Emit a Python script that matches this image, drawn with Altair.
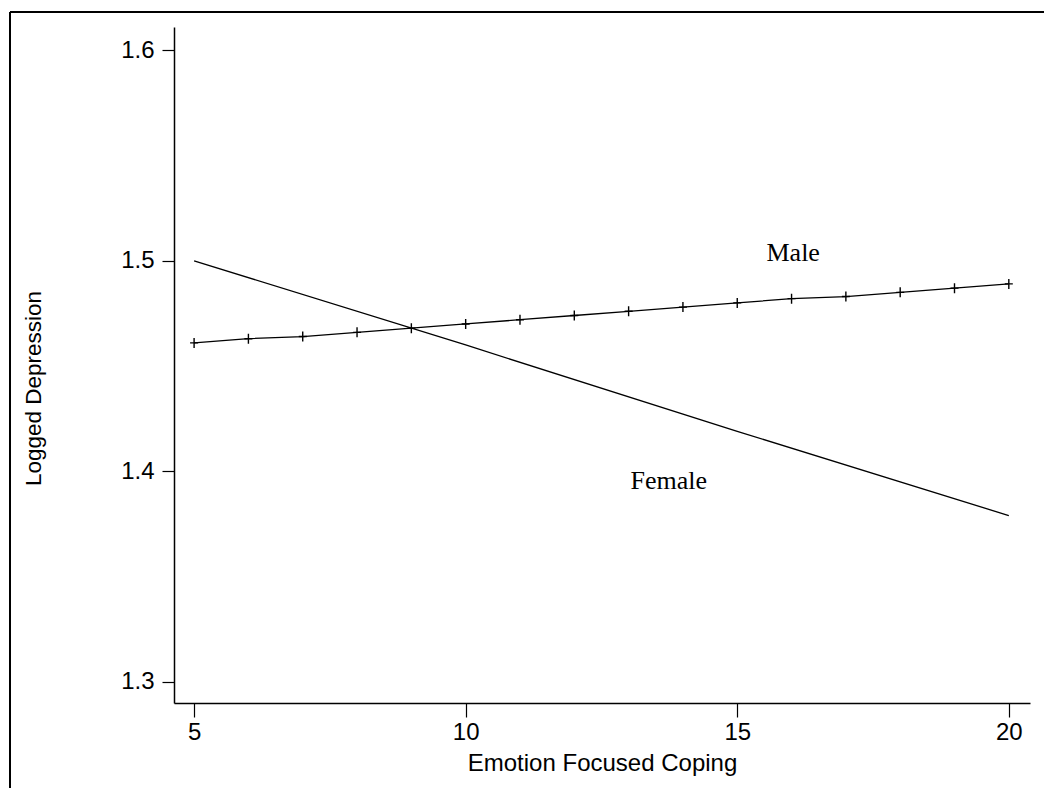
import altair as alt
import pandas as pd

# Data
male_x = [5, 6, 7, 8, 9, 10, 11, 12, 13, 14, 15, 16, 17, 18, 19, 20]
male_y = [1.461, 1.463, 1.464, 1.466, 1.468, 1.470, 1.472, 1.474,
          1.476, 1.478, 1.480, 1.482, 1.483, 1.485, 1.487, 1.489]
female_x = [5, 10, 15, 20]
female_y = [1.500, 1.460, 1.419, 1.379]

label_text = ["Male", "Female"]
label_x = [16.03, 13.74]
label_y = [1.500, 1.3914]

x_ticks = [5, 10, 15, 20]
y_ticks = [1.3, 1.4, 1.5, 1.6]

SANS = "Liberation Sans, Arial, sans-serif"
SERIF = "Liberation Serif, Times New Roman, serif"

male_df = pd.DataFrame({"x": male_x, "y": male_y})
female_df = pd.DataFrame({"x": female_x, "y": female_y})
labels_df = pd.DataFrame({"text": label_text, "x": label_x, "y": label_y})

xscale = alt.Scale(domain=[4.63, 20.39], nice=False, zero=False)
yscale = alt.Scale(domain=[1.29, 1.611], nice=False, zero=False)

xaxis = alt.Axis(values=x_ticks, title="Emotion Focused Coping", grid=False,
                 labelFont=SANS, labelFontSize=24, labelColor="black", labelPadding=3,
                 tickSize=14, tickColor="black", tickWidth=1.2,
                 domainColor="black", domainWidth=1.5,
                 titleFont=SANS, titleFontSize=24, titleFontWeight="normal",
                 titleColor="black", titleBaseline="alphabetic", titleY=67)
yaxis = alt.Axis(values=y_ticks, format=".1f", title="Logged Depression", grid=False,
                 labelFont=SANS, labelFontSize=24, labelColor="black", labelPadding=8,
                 tickSize=12, tickColor="black", tickWidth=1.2,
                 domainColor="black", domainWidth=1.5,
                 titleFont=SANS, titleFontSize=22.5, titleFontWeight="normal",
                 titleColor="black", titleAngle=270, titleAlign="center",
                 titleBaseline="alphabetic", titleX=-134, titleY=361)

female_line = alt.Chart(female_df).mark_line(color="black", strokeWidth=1.3).encode(
    x=alt.X("x:Q", scale=xscale, axis=xaxis),
    y=alt.Y("y:Q", scale=yscale, axis=yaxis),
)
male_line = alt.Chart(male_df).mark_line(color="black", strokeWidth=1.3).encode(
    x=alt.X("x:Q", scale=xscale),
    y=alt.Y("y:Q", scale=yscale),
)
male_pts = alt.Chart(male_df).mark_point(
    shape="M-0.8,0H0.8M0,-1V1", color="black", strokeWidth=1.4, size=100, filled=False, opacity=1
).encode(
    x=alt.X("x:Q", scale=xscale),
    y=alt.Y("y:Q", scale=yscale),
)
labels = alt.Chart(labels_df).mark_text(
    font=SERIF, fontSize=26, color="black", align="center", baseline="alphabetic"
).encode(
    x=alt.X("x:Q", scale=xscale),
    y=alt.Y("y:Q", scale=yscale),
    text="text:N",
)

frame_df = pd.DataFrame({"k": [0]})
frame_left = alt.Chart(frame_df).mark_rule(color="black", strokeWidth=2, clip=False).encode(
    x=alt.value(-164), y=alt.value(-15), y2=alt.value(800)
)
frame_top = alt.Chart(frame_df).mark_rule(color="black", strokeWidth=2, clip=False).encode(
    x=alt.value(-164), x2=alt.value(900), y=alt.value(-15)
)

chart = alt.layer(frame_left, frame_top, female_line, male_line, male_pts, labels).properties(
    width=856, height=676,
    autosize=alt.AutoSizeParams(type="none"),
    padding={"left": 166, "top": 19, "right": 14, "bottom": 85},
    background="white",
).configure_view(stroke=None)

chart.save("out.html", embed_options={"renderer": "svg", "actions": False})
